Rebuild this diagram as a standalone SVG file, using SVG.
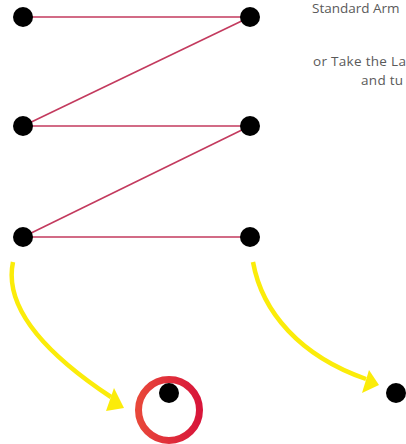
<svg xmlns="http://www.w3.org/2000/svg" width="406" height="444" viewBox="0 0 406 444">
<style>
.dot{fill:#000}
.edge{stroke:#c33a5e;stroke-width:1.6;fill:none}
.arrow{stroke:#fbec0a;stroke-width:4.5;fill:none}
.head{fill:#fbec0a}
.lbl{font-family:"Open Sans","Liberation Sans",sans-serif;font-size:13.5px;letter-spacing:0.3px;fill:#5a5a5a}
</style>
<defs>
<linearGradient id="ring" x1="0" y1="0" x2="1" y2="0">
<stop offset="0" stop-color="#e8473a"/>
<stop offset="1" stop-color="#d8163a"/>
</linearGradient>
</defs>
<g id="connectors">
<line class="edge" x1="23" y1="17" x2="250" y2="17"/>
<line class="edge" x1="250" y1="17" x2="23" y2="126"/>
<line class="edge" x1="23" y1="126" x2="250" y2="126"/>
<line class="edge" x1="250" y1="126" x2="23" y2="237"/>
<line class="edge" x1="23" y1="237" x2="250" y2="237"/>
<path class="arrow" d="M13,262 C4,305 40,350 111,397"/>
<polygon class="head" points="124,408 106,411 114,388"/>
<path class="arrow" d="M253,262 C262,312 300,356 366,379"/>
<polygon class="head" points="379,385 362,393 369,370"/>
</g>
<g id="n1"><circle class="dot" cx="23" cy="17" r="10"/></g>
<g id="n2"><circle class="dot" cx="250" cy="17" r="10"/></g>
<g id="n3"><circle class="dot" cx="23" cy="126" r="10"/></g>
<g id="n4"><circle class="dot" cx="250" cy="126" r="10"/></g>
<g id="n5"><circle class="dot" cx="23" cy="237" r="10"/></g>
<g id="n6"><circle class="dot" cx="250" cy="237" r="10"/></g>
<g id="target"><circle cx="169" cy="410" r="30.5" fill="none" stroke="url(#ring)" stroke-width="7"/><circle class="dot" cx="169" cy="393" r="10"/></g>
<g id="n8"><circle class="dot" cx="396" cy="393" r="10"/></g>
<g id="labels">
<text class="lbl" x="312" y="13" style="letter-spacing:0">Standard Arm</text>
<text class="lbl" x="313" y="66">or Take the La</text>
<text class="lbl" x="361" y="85">and tu</text>
</g>
</svg>
